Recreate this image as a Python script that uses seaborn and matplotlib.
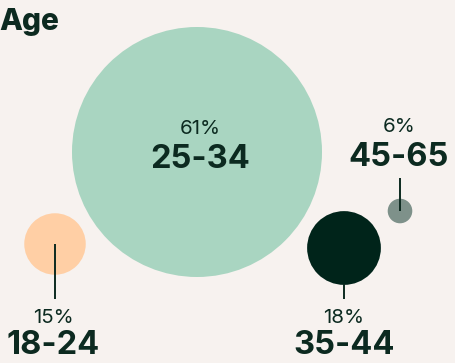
import matplotlib
matplotlib.use("Agg")
import matplotlib.pyplot as plt
import seaborn as sns
import pandas as pd

# Age distribution
age_groups = ["18-24", "25-34", "35-44", "45-65"]
shares = [15, 61, 18, 6]

# Layout (pixel canvas) and styling
centers_x = [55, 197, 344, 400]
centers_y = [244, 152, 248, 211]
colors = ["#ffcfa5", "#a9d5c1", "#00241a", "#7e918a"]
label_x = [53, 200, 344, 399]
pct_y = [318, 129, 318, 127]
name_y = [346, 159, 346, 157]
lead_start_y = [244, None, 284, 211]
lead_end_y = [299, None, 299, 178]

BG = "#f7f2ef"
INK = "#0c2a20"
DPI = 100
W, H = 456, 363
PX_PER_PCT = 125 / 61  # circle radius in pixels per percentage point

sns.set_theme(style="white")
plt.rcParams["font.family"] = ["Inter", "DejaVu Sans"]

fig = plt.figure(figsize=(W / DPI, H / DPI), dpi=DPI, facecolor=BG)
ax = fig.add_axes([0, 0, 1, 1])
ax.set_facecolor(BG)
ax.set_xlim(0, W)
ax.set_ylim(H, 0)
ax.set_aspect("equal")
ax.axis("off")

df = pd.DataFrame({"age": age_groups, "share": shares, "x": centers_x, "y": centers_y})
# marker area in points^2 so that the radius (px) is proportional to the share
area = {s: (2 * s * PX_PER_PCT * 72 / DPI) ** 2 for s in shares}
sns.scatterplot(data=df, x="x", y="y", hue="age", palette=dict(zip(age_groups, colors)),
                size="share", sizes=area, linewidth=0, legend=False, ax=ax, zorder=1)

# leader lines between the circles and their labels
for cx, sy, ey in zip(centers_x, lead_start_y, lead_end_y):
    if ey is not None:
        ax.plot([cx, cx], [sy, ey], color=INK, lw=1.4, solid_capstyle="butt", zorder=2)

for name, s, lx, py, ny in zip(age_groups, shares, label_x, pct_y, name_y):
    ax.text(lx, py, f"{s}%", ha="center", va="center", fontsize=14.8, color=INK, zorder=3)
    ax.text(lx, ny, name, ha="center", va="center", fontsize=23.5, fontweight="bold",
            color=INK, zorder=3)

ax.text(-1, 30, "Age", ha="left", va="baseline", fontsize=21.5, fontweight="heavy", color=INK)

fig.savefig("out.png", dpi=DPI, facecolor=BG)
